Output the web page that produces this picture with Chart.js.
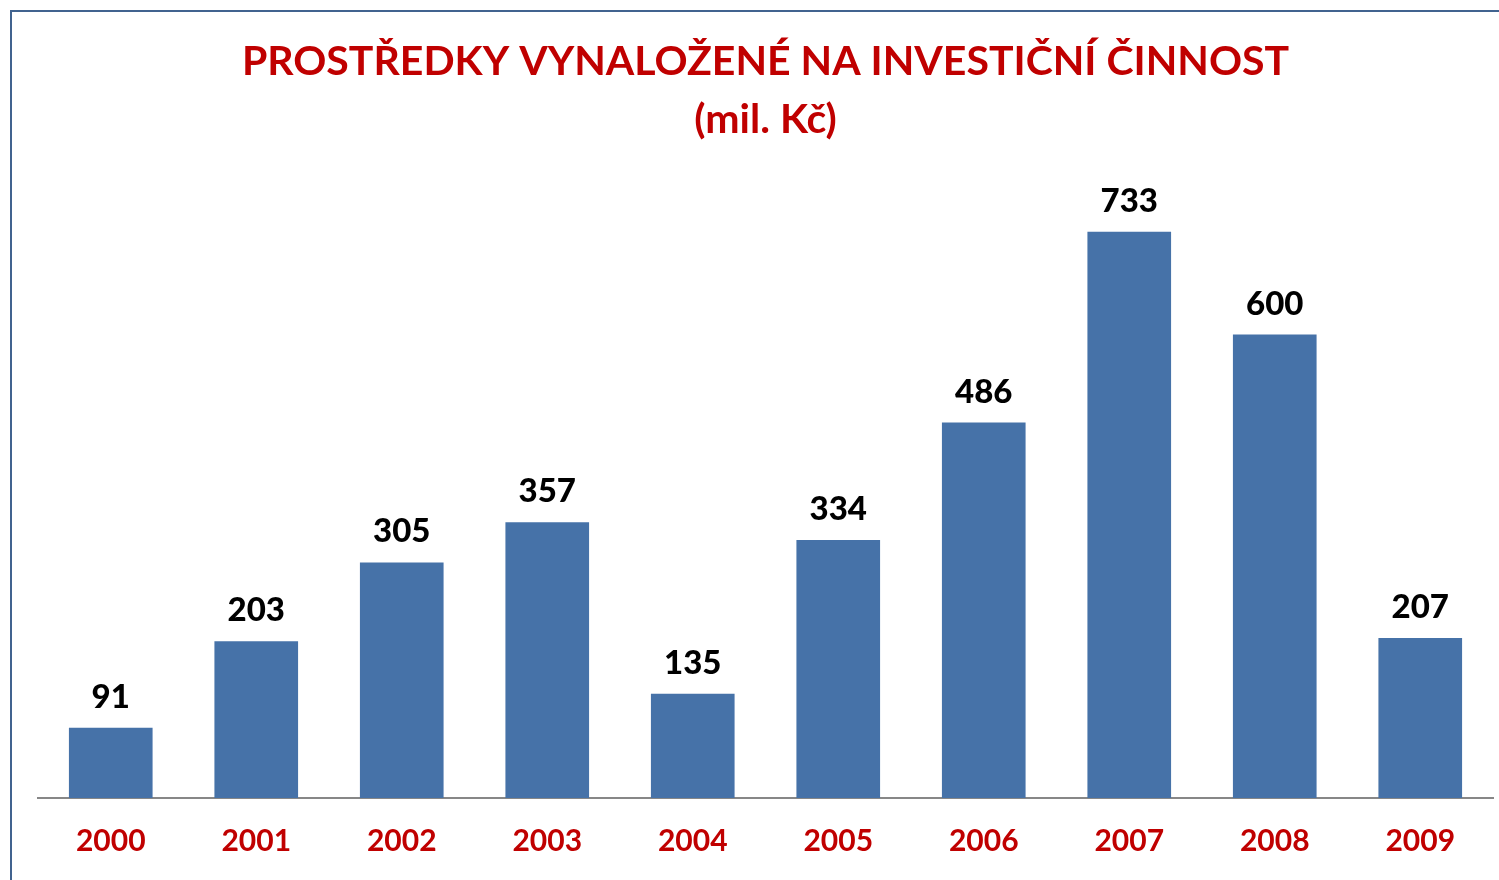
<!DOCTYPE html>
<html>
<head>
<meta charset="utf-8">
<script src="https://cdn.jsdelivr.net/npm/chart.js@4.4.0/dist/chart.umd.min.js"></script>
<style>
html,body{margin:0;padding:0;background:#fff;}
#wrap{position:relative;width:1499px;height:880px;}
</style>
</head>
<body>
<div id="wrap"><canvas id="c" width="1499" height="880"></canvas></div>
<script>
const categories = ['2000','2001','2002','2003','2004','2005','2006','2007','2008','2009'];
const values = [91, 203, 305, 357, 135, 334, 486, 733, 600, 207];
const titleLines = ['PROSTŘEDKY VYNALOŽENÉ NA INVESTIČNÍ ČINNOST', '(mil. Kč)'];

const FONT = 'Lato, "Open Sans", sans-serif';

const framePlugin = {
  id: 'frame',
  beforeDraw(chart) {
    const ctx = chart.ctx;
    ctx.save();
    ctx.strokeStyle = '#41638f';
    ctx.lineWidth = 2;
    ctx.beginPath();
    ctx.moveTo(11, 880);
    ctx.lineTo(11, 11);
    ctx.lineTo(1499, 11);
    ctx.stroke();
    ctx.restore();
  }
};

const valueLabels = {
  id: 'valueLabels',
  afterDatasetsDraw(chart) {
    const ctx = chart.ctx;
    const meta = chart.getDatasetMeta(0);
    ctx.save();
    ctx.fillStyle = '#000';
    ctx.font = '900 33px ' + FONT;
    ctx.textAlign = 'center';
    ctx.textBaseline = 'alphabetic';
    meta.data.forEach((bar, i) => {
      ctx.fillText(String(chart.data.datasets[0].data[i]), bar.x, bar.y - 20);
    });
    ctx.restore();
  }
};

new Chart(document.getElementById('c'), {
  type: 'bar',
  data: {
    labels: categories,
    datasets: [{
      data: values,
      backgroundColor: '#4672a8',
      borderWidth: 0,
      categoryPercentage: 1.0,
      barPercentage: 0.575
    }]
  },
  options: {
    responsive: false,
    animation: false,
    devicePixelRatio: 1,
    layout: { padding: { left: 38, right: 6, top: 0, bottom: -4 } },
    plugins: {
      legend: { display: false },
      tooltip: { enabled: false },
      title: {
        display: true,
        text: titleLines,
        color: '#c00000',
        font: { family: FONT, size: 41, weight: 'bold', lineHeight: 58/41 },
        padding: { top: 33, bottom: 31 }
      }
    },
    scales: {
      x: {
        grid: { display: false, drawTicks: false },
        border: { display: true, color: '#878787', width: 2 },
        ticks: {
          color: '#c00000',
          font: { family: FONT, size: 30, weight: 'bold' },
          padding: 25
        }
      },
      y: {
        display: false,
        min: 0,
        max: 800
      }
    }
  },
  plugins: [framePlugin, valueLabels]
});
</script>
</body>
</html>
